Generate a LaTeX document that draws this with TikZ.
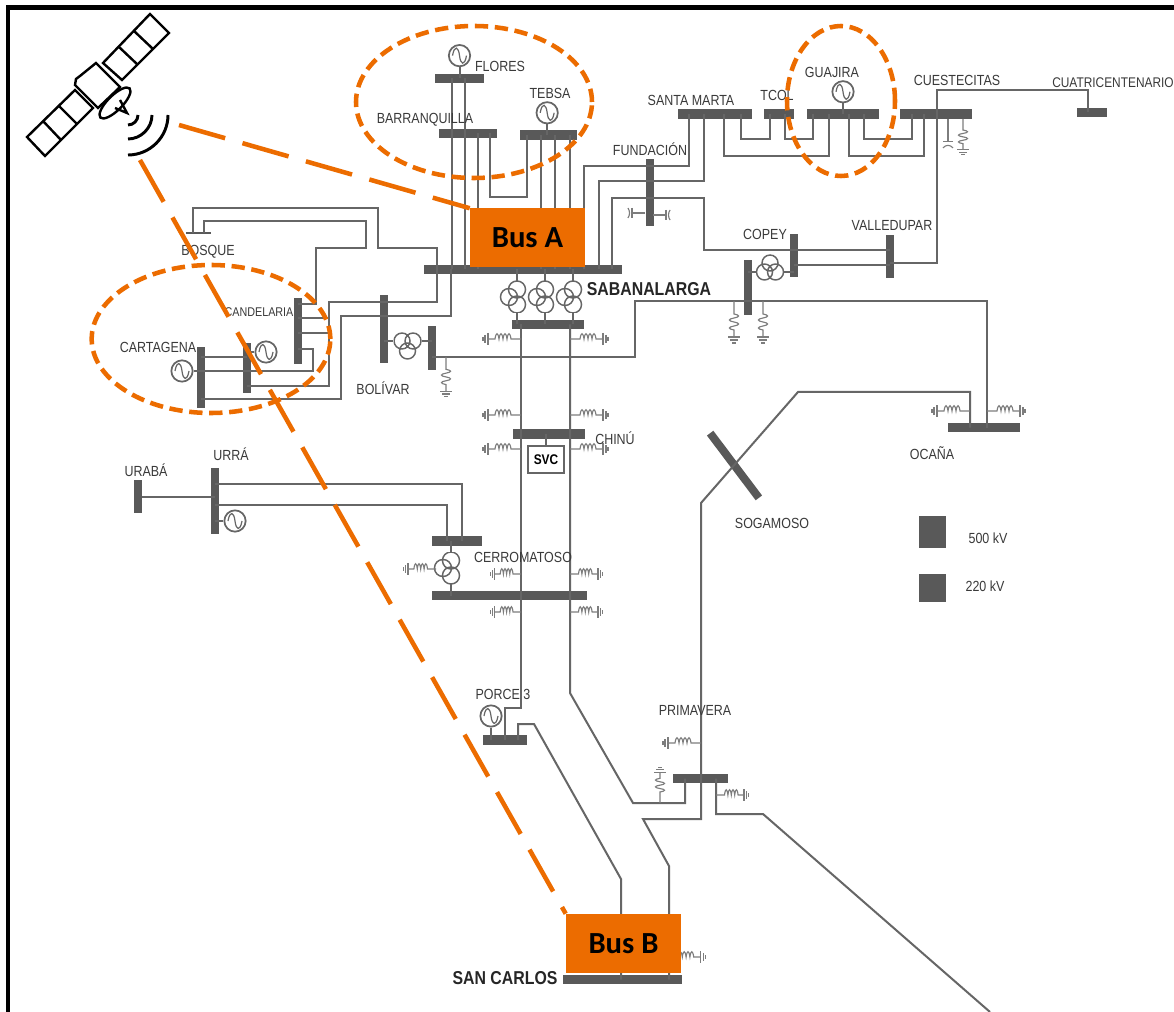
\documentclass[tikz,border=0pt]{standalone}
\usepackage{fontspec}
\usepackage{tikz}
\usetikzlibrary{positioning,shapes}
\newfontfamily\labelfont[FakeStretch=0.85]{Liberation Sans}
\newfontfamily\busfont{Carlito}
\definecolor{busgray}{HTML}{595959}
\definecolor{wiregray}{HTML}{666666}
\definecolor{textgray}{HTML}{3A3A3A}
\definecolor{pmuorange}{HTML}{EC6C00}

\begin{document}
\begin{tikzpicture}[x=0.75pt,y=-0.75pt]
	\tikzstyle{wire} = [draw=wiregray, line width=1.5pt]
	\tikzstyle{fine} = [draw=wiregray!85, line width=0.85pt]
	\tikzstyle{bus} = [fill=busgray, inner sep=0pt, outer sep=0pt]
	\tikzstyle{hbus} = [bus, minimum width=#1*0.75pt, minimum height=7pt]
	\tikzstyle{vbus} = [bus, minimum width=6pt, minimum height=#1*0.75pt]
	\tikzstyle{lab} = [font=\labelfont\fontsize{11}{13}\selectfont, text=textgray, inner sep=0pt]
	\tikzstyle{biglab} = [font=\labelfont\bfseries\fontsize{14}{16}\selectfont, text=black!85, inner sep=0pt]
	\tikzstyle{gen} = [circle, draw=wiregray, line width=1.3pt, fill=white, inner sep=0pt, minimum size=16pt,
		path picture={\draw[wiregray, line width=0.9pt, shift={(path picture bounding box.center)}] (-7,0) .. controls (-5,-11) and (-1,-9) .. (0,0) .. controls (1,9) and (5,11) .. (7,0);}]
	\tikzstyle{trafov} = [inner sep=0pt, minimum width=27pt, minimum height=24pt,
		path picture={\draw[wiregray, line width=1.1pt, shift={(path picture bounding box.center)}] (-8,0) circle (6.4pt) (0,-7.5) circle (6.4pt) (0,7.5) circle (6.4pt);}]
	\tikzstyle{trafoh} = [inner sep=0pt, minimum width=21pt, minimum height=36pt,
		path picture={\draw[wiregray, line width=1.1pt, shift={(path picture bounding box.center)}] (-5.5,0) circle (6pt) (5.5,0) circle (6pt) (0,#1) circle (6pt);}]
	\tikzstyle{ring} = [ellipse, draw=pmuorange, line width=3.4pt, dash pattern=on 10pt off 5pt, inner sep=0pt]
	\tikzstyle{link} = [draw=pmuorange, line width=3.4pt, dash pattern=on 36pt off 13.5pt]
	\tikzstyle{pmu} = [fill=pmuorange, inner sep=0pt, minimum width=86.25pt, minimum height=44.25pt, font=\busfont\bfseries\fontsize{23}{27}\selectfont]
	\tikzstyle{sat} = [draw=black, line width=1.8pt]
	\tikzset{
		hreactor/.pic={
			\draw[fine] (0,0) -- (10,0) .. controls (11,-7) and (13,-7) .. (14,0) .. controls (15,-7) and (17,-7) .. (18,0) .. controls (19,-7) and (21,-7) .. (22,0) .. controls (23,-7) and (25,-7) .. (26,0) -- (33,0);
			\draw[fine] (33,-6) -- (33,6) (36,-4) -- (36,4) (38,-2) -- (38,2);
		},
		vreactor/.pic={
			\draw[fine] (0,0) -- (0,13) .. controls (6,14) and (6,16) .. (0,17) .. controls (-6,18) and (-6,20) .. (0,21) .. controls (6,22) and (6,24) .. (0,25) .. controls (-6,26) and (-6,28) .. (0,29) -- (0,36);
			\draw[fine] (-6,36) -- (6,36) (-4,39) -- (4,39) (-2,42) -- (2,42);
		},
		capac/.pic={
			\draw[fine] (0,0) -- (13,0) (13,-5) -- (13,5);
			\draw[fine] (17,-5) .. controls (15,-2) and (15,2) .. (17,5);
		}
	}

	\useasboundingbox (0,0) rectangle (1174,1012);
	\fill[white] (0,0) rectangle (1174,1012);
	\draw[line width=3.4pt, black] (8,1012) -- (8,7.5) -- (1174,7.5);

	% horizontal bars
	\node [hbus=49] (flores) at (459.5,78.5) {};
	\node [hbus=58] (barranquilla) at (468,133.5) {};
	\node [hbus=57] (tebsa) at (548.5,135) {};
	\node [hbus=74] (santamarta) at (714.5,114) {};
	\node [hbus=30] (tcol) at (779,114) {};
	\node [hbus=72] (guajira) at (843,114) {};
	\node [hbus=72] (cuestecitas) at (936,114) {};
	\node [hbus=30] (cuatri) at (1092,112.5) {};
	\node [hbus=198] (sabanalarga) at (523,269.5) {};
	\node [hbus=72] (sabalow) at (548,324.5) {};
	\node [hbus=72] (chinu) at (549,434) {};
	\node [hbus=50] (cerrotop) at (457,541) {};
	\node [hbus=155] (cerromain) at (509.5,595.5) {};
	\node [hbus=44] (porce) at (505,740) {};
	\node [hbus=55] (primavera) at (700.5,778.5) {};
	\node [hbus=72] (ocana) at (984,427.5) {};
	\node [hbus=119] (sancarlos) at (622.5,979.5) {};
	\node [hbus=25, minimum height=2.2pt] (bosque) at (198.5,233) {};
	\node [hbus=81, rotate=-53, minimum height=6pt] (sogamoso) at (734.5,465.5) {};

	% vertical bars
	\node [vbus=67] (fundacion) at (649.5,192.5) {};
	\node [vbus=43] (copey) at (793.5,255.5) {};
	\node [vbus=43] (valledupar) at (890,256.5) {};
	\node [vbus=55] (copeylow) at (748,287.5) {};
	\node [vbus=68] (bolivar) at (384,329) {};
	\node [vbus=44] (bolivarlow) at (432,348) {};
	\node [vbus=66] (candelaria) at (298,331) {};
	\node [vbus=61] (cartagena) at (201,377.5) {};
	\node [vbus=50] (cartamid) at (247,368) {};
	\node [vbus=66] (urra) at (215,501) {};
	\node [vbus=33] (uraba) at (138,496.5) {};

	% generators
	\node [gen, above = 5pt of flores] (genflores) {};
	\node [gen, above = 4.5pt of tebsa, xshift=-1pt] (gentebsa) {};
	\node [gen, above = 4.5pt of guajira] (genguajira) {};
	\node [gen] (gencartagena) at (182,371) {};
	\node [gen] (gencandelaria) at (266,352) {};
	\node [gen] (genurra) at (235,521) {};
	\node [gen] (genporce) at (491,716) {};

	% transformers
	\node [trafov] (tra) at (517,297) {};
	\node [trafov] (trb) at (545,297) {};
	\node [trafov] (trc) at (573,297) {};
	\node [trafov] (trcerro) at (451,568) {};
	\node [trafoh=10] (trbolivar) at (407.5,341) {};
	\node [trafoh=-9] (trcopey) at (770,272) {};

	\node [draw=wiregray, line width=1.3pt, inner sep=0pt, minimum width=27pt, minimum height=20pt, font=\labelfont\bfseries\fontsize{10.5}{12}\selectfont] (svc) at (546,459.5) {SVC};

	% barranquilla area
	\draw [wire] (genflores) -- (genflores |- flores);
	\draw [wire] (gentebsa) -- (gentebsa |- tebsa);
	\draw [wire] (genguajira) -- (genguajira |- guajira);
	\draw [wire] (452,0 |- flores) -- (452,0 |- sabanalarga);
	\draw [wire] (465,0 |- flores) -- (465,0 |- sabanalarga);
	\draw [wire] (478,0 |- barranquilla) -- (478,0 |- sabanalarga);
	\draw [wire] (490,0 |- barranquilla) |- (527,197) -- (527,0 |- tebsa);
	\draw [wire] (541,0 |- tebsa) -- (541,0 |- sabanalarga);
	\draw [wire] (555,0 |- tebsa) -- (555,0 |- sabanalarga);
	\draw [wire] (570,0 |- tebsa) -- (570,0 |- sabanalarga);

	% toward the north east
	\draw [wire] (584,0 |- sabanalarga) |- (689,166) -- (689,0 |- santamarta);
	\draw [wire] (599,0 |- sabanalarga) |- (704,181) -- (704,0 |- santamarta);
	\draw [wire] (612,0 |- sabanalarga) |- (704,198) |- (valledupar |- 0,250);
	\draw [wire] (copey |- 0,265) -- (valledupar |- 0,265);
	\draw [wire] (valledupar |- 0,263) -| (937,0 |- cuestecitas);
	\draw [wire] (937,0 |- cuestecitas) |- (1087.5,90) -- (1087.5,0 |- cuatri);
	\draw [wire] (724,0 |- santamarta) |- (829,156) -- (829,0 |- guajira);
	\draw [wire] (741,0 |- santamarta) |- (770,139) -- (770,0 |- tcol);
	\draw [wire] (785,0 |- tcol) |- (813,139) -- (813,0 |- guajira);
	\draw [wire] (849,0 |- guajira) |- (924,156) -- (924,0 |- cuestecitas);
	\draw [wire] (864,0 |- guajira) |- (912,139) -- (912,0 |- cuestecitas);
	\draw [wire] (copeylow |- trcopey) -- (trcopey);
	\draw [wire] (trcopey) -- (copey |- trcopey);

	% toward the west
	\draw [wire] (437,0 |- sabanalarga) |- (378,248) |- (193,208) -- (193,0 |- bosque);
	\draw [wire] (437,0 |- sabanalarga) |- (329,302) -- (329,386) -- (cartamid |- 0,386);
	\draw [wire] (451,0 |- sabanalarga) |- (341,316) |- (cartagena |- 0,399);
	\draw [wire] (204,0 |- bosque) |- (366,221) -- (366,248) -- (316,248) |- (candelaria |- 0,304);
	\draw [wire] (candelaria |- 0,318) -- (329,318);
	\draw [wire] (candelaria |- 0,333) -- (329,333);
	\draw [wire] (candelaria |- 0,349) -| (313,371) -- (cartagena |- 0,371);
	\draw [wire] (cartagena |- 0,357) -- (cartamid |- 0,357);
	\draw [wire] (gencartagena) -- (cartagena |- gencartagena);
	\draw [wire] (gencandelaria) -- (cartamid |- gencandelaria);
	\draw [wire] (bolivar |- trbolivar) -- (trbolivar);
	\draw [wire] (trbolivar) -- (bolivarlow |- trbolivar);

	% sabanalarga
	\draw [wire] (tra |- sabanalarga) -- (tra);
	\draw [wire] (tra) -- (tra |- sabalow);
	\draw [wire] (trb |- sabanalarga) -- (trb);
	\draw [wire] (trb) -- (trb |- sabalow);
	\draw [wire] (trc |- sabanalarga) -- (trc);
	\draw [wire] (trc) -- (trc |- sabalow);
	\draw [wire] (bolivarlow |- 0,357) -| (635,301) -| (987,0 |- ocana);

	% south
	\draw [wire] (521,0 |- sabalow) -- (521,708) -| (505,0 |- porce);
	\draw [wire] (570,0 |- sabalow) -- (570,693) -- (633,803) -| (685,0 |- primavera);
	\draw [wire] (518,0 |- porce) |- (534,724) -- (621,879) -- (621,0 |- sancarlos);
	\draw [wire] (genporce) -- (genporce |- porce);
	\draw [wire] (546,0 |- chinu) -- (svc);
	\draw [wire] (urra |- uraba) -- (uraba);
	\draw [wire] (urra |- 0,484) -| (462,0 |- cerrotop);
	\draw [wire] (urra |- 0,505) -| (447,0 |- cerrotop);
	\draw [wire] (genurra) -- (urra |- genurra);
	\draw [wire] (trcerro |- cerrotop) -- (trcerro);
	\draw [wire] (trcerro) -- (trcerro |- cerromain);
	\draw [wire] (970,0 |- ocana) |- (798,392) -- (701,503) -- (701,819) -- (643,819) -- (669,866) -- (669,0 |- sancarlos);
	\coordinate (exit) at (990,1012);
	\draw [wire] (716,0 |- primavera) |- (763,814) -- (exit);

	% shunt elements
	\pic [xscale=-1] at (521,339) {hreactor};
	\pic at (570,339) {hreactor};
	\pic [xscale=-1] at (521,415) {hreactor};
	\pic at (570,415) {hreactor};
	\pic [xscale=-1] at (521,449) {hreactor};
	\pic at (570,449) {hreactor};
	\pic [xscale=-0.8] at (521,574) {hreactor};
	\pic [xscale=0.85] at (570,574) {hreactor};
	\pic [xscale=-0.8] at (521,612) {hreactor};
	\pic [xscale=0.85] at (570,612) {hreactor};
	\pic [xscale=-0.85] at (436,569) {hreactor};
	\pic [xscale=-1] at (970,411) {hreactor};
	\pic at (987,411) {hreactor};
	\pic [xscale=-1] at (701,743) {hreactor};
	\pic [xscale=0.85] at (716,795) {hreactor};
	\pic [xscale=0.95] at (669,957) {hreactor};
	\pic at (734,301) {vreactor};
	\pic at (763,301) {vreactor};
	\pic [yscale=0.95] at (446,357) {vreactor};
	\pic [yscale=0.85] at (963,119) {vreactor};
	\pic [yscale=-0.85] at (660,803) {vreactor};
	\pic [xscale=-1] at (645,213) {capac};
	\pic at (653,215) {capac};
	\pic [rotate=-90, xscale=1.7] at (948,119) {capac};

	% labels
	\node [lab] (tflores) at (500,66) {FLORES};
	\node [lab] (tbarranquilla) at (425,120) {BARRANQUILLA};
	\node [lab] (ttebsa) at (550,93) {TEBSA};
	\node [lab] (tsantamarta) at (691,100) {SANTA MARTA};
	\node [lab] (ttcol) at (777,95) {TCOL};
	\node [lab] (tguajira) at (832,72) {GUAJIRA};
	\node [lab] (tcuestecitas) at (957,80) {CUESTECITAS};
	\node [lab, anchor=west, font=\labelfont\fontsize{10.5}{13}\selectfont] (tcuatri) at (1052,83) {CUATRICENTENARIO};
	\node [lab] (tfundacion) at (650,149) {FUNDACIÓN};
	\node [lab] (tcopey) at (765,234) {COPEY};
	\node [lab] (tvalledupar) at (892,226) {VALLEDUPAR};
	\node [biglab] (tsabanalarga) at (649,289) {SABANALARGA};
	\node [lab] (tbosque) at (208,252) {BOSQUE};
	\node [lab, font=\labelfont\fontsize{9.5}{11}\selectfont] (tcandelaria) at (259,312) {CANDELARIA};
	\node [lab] (tcartagena) at (158,347) {CARTAGENA};
	\node [lab] (tbolivar) at (383,388) {BOLÍVAR};
	\node [lab] (tocana) at (932,453) {OCAÑA};
	\node [lab] (tchinu) at (615,438) {CHINÚ};
	\node [lab] (turaba) at (146,470) {URABÁ};
	\node [lab] (turra) at (231,454) {URRÁ};
	\node [lab] (tsogamoso) at (772,523) {SOGAMOSO};
	\node [lab] (tcerromatoso) at (523,557) {CERROMATOSO};
	\node [lab] (tporce) at (503,694) {PORCE 3};
	\node [lab] (tprimavera) at (695,710) {PRIMAVERA};
	\node [biglab] (tsancarlos) at (505,978) {SAN CARLOS};

	% legend
	\node [bus, minimum width=20.25pt, minimum height=24pt] (key500) at (932.5,532) {};
	\node [bus, minimum width=20.25pt, minimum height=21pt] (key220) at (932.5,588) {};
	\node [lab] (t500) at (988,538) {500 kV};
	\node [lab] (t220) at (985,586) {220 kV};

	% satellite
	\draw [sat] (150,14) -- (169,33) -- (122,80) -- (103,63) -- cycle;
	\draw [sat] (134,31) -- (153,49);
	\draw [sat] (119,47) -- (138,65);
	\draw [sat] (27,137) -- (45,156) -- (93,108) -- (75,90) -- cycle;
	\draw [sat] (43,121) -- (61,140);
	\draw [sat] (59,106) -- (77,124);
	\draw [sat, fill=white] (76,79) -- (80,76) -- (96,63) -- (120,87) -- (98,108) -- (75,85) -- cycle;
	\node [ellipse, sat, rotate=45, fill=white, inner sep=0pt, minimum width=31pt, minimum height=11pt] (dish) at (115,103) {};
	\draw [sat] (115,108) -- (127,113) -- (120,100);
	\draw [line width=2.2pt] (128,125) .. controls (133.5,125) and (138,120.5) .. (138,115);
	\draw [line width=2.2pt] (128,139) .. controls (141,139) and (152,128) .. (152,115);
	\draw [line width=2.2pt] (128,155) .. controls (150,155) and (168,137) .. (168,115);

	% monitored areas and buses
	\node [ring, minimum width=177pt, minimum height=114pt] (ringbarranquilla) at (474,102) {};
	\node [ring, minimum width=179pt, minimum height=111pt] (ringcartagena) at (211,339) {};
	\node [ring, minimum width=81pt, minimum height=112.5pt] (ringguajira) at (841,101) {};
	\node [pmu] (busa) at (527.5,238) {Bus A};
	\node [pmu] (busb) at (623.5,943.5) {Bus B};
	\coordinate (sata) at (179,125);
	\coordinate (satb) at (140,160);
	\draw [link] (sata) -- (busa.north west);
	\draw [link] (satb) -- (busb.north west);
\end{tikzpicture}
\end{document}
